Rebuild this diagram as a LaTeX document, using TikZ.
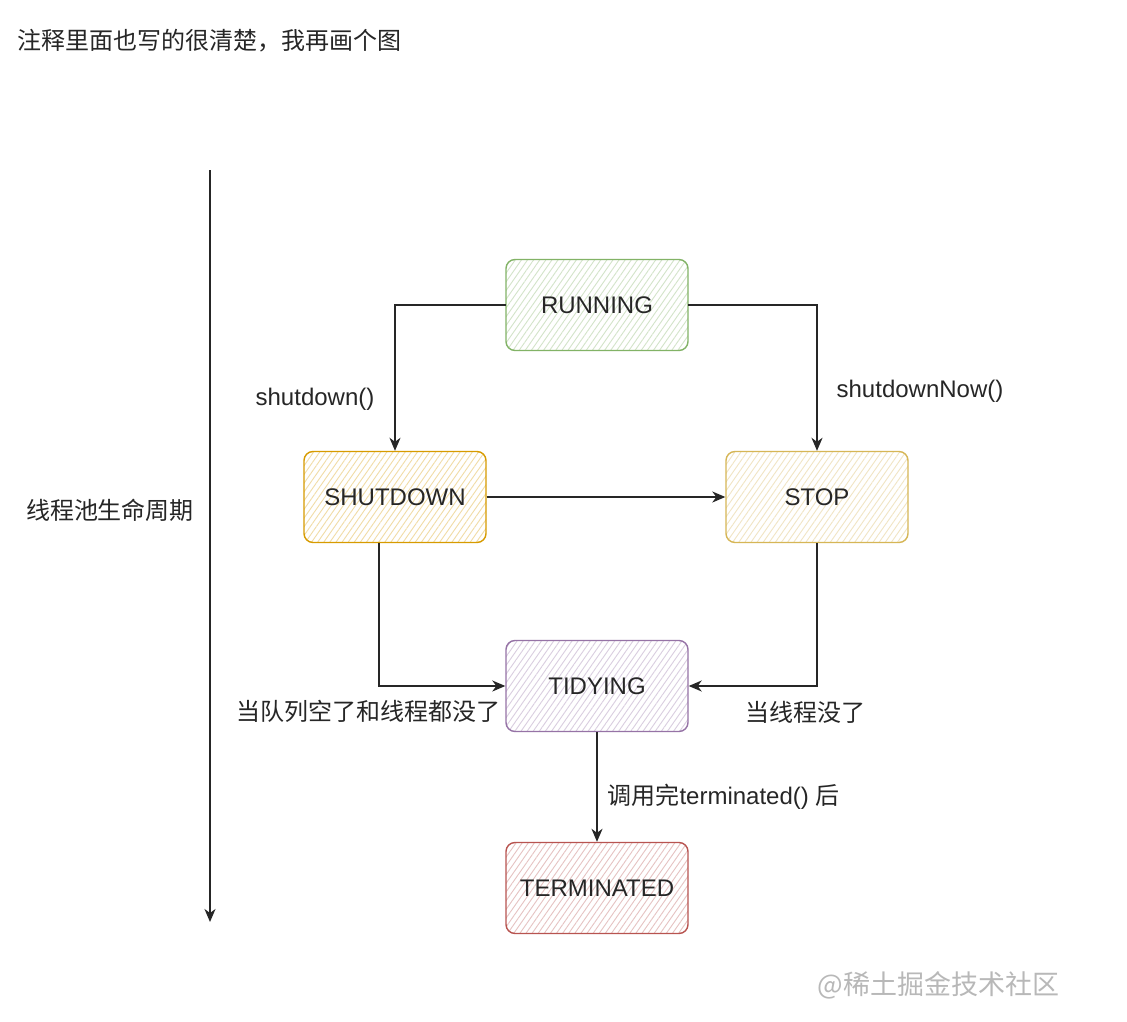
\documentclass[tikz,border=0pt]{standalone}
\usepackage{fontspec}
\setmainfont{Liberation Sans}
\newfontfamily\cjk{Noto Sans CJK SC}
\usetikzlibrary{arrows.meta,patterns.meta}

\definecolor{runline}{HTML}{82B366}
\definecolor{shutline}{HTML}{D79B00}
\definecolor{stopline}{HTML}{D6B656}
\definecolor{tidyline}{HTML}{9673A6}
\definecolor{termline}{HTML}{B85450}

\begin{document}
\begin{tikzpicture}[x=1pt,y=-1pt,
  state/.style={draw=#1, rounded corners=9pt, minimum width=182pt, minimum height=91pt,
    line width=1.4pt, text=black!85, font=\fontsize{24}{28}\selectfont,
    pattern={Lines[angle=55,distance=5pt,line width=0.9pt]}, pattern color=#1!35},
  lbl/.style={text=black!85, font=\fontsize{24}{28}\selectfont},
  cjklbl/.style={text=black!85, font={\cjk\fontsize{24}{28}\selectfont}},
  arr/.style={draw=black!85, line width=1.5pt, -{Stealth[length=13pt,width=11pt,inset=4pt]}}]
  \useasboundingbox[fill=white] (0,0) rectangle (1127,1022);
  % heading and time axis
  \node[cjklbl, anchor=west] (title) at (14,41) {注释里面也写的很清楚，我再画个图};
  \coordinate (axisTop) at (210,170);
  \coordinate (axisEnd) at (210,922);
  \draw[arr] (axisTop) -- (axisEnd);
  \node[cjklbl] (axisLbl) at (110,510) {线程池生命周期};
  % states
  \node[state=runline] (run) at (597,305) {RUNNING};
  \node[state=shutline] (shut) at (395,497) {SHUTDOWN};
  \node[state=stopline] (stop) at (817,497) {STOP};
  \node[state=tidyline] (tidy) at (597,686) {TIDYING};
  \node[state=termline] (term) at (597,888) {TERMINATED};
  % transitions
  \draw[arr] (run.west) -| (shut.north);
  \draw[arr] (run.east) -| (stop.north);
  \draw[arr] (shut.east) -- (stop.west);
  \draw[arr] ([xshift=-16pt]shut.south) |- (tidy.west);
  \draw[arr] (stop.south) |- (tidy.east);
  \draw[arr] (tidy.south) -- (term.north);
  \node[lbl] (shutLbl) at (315,399) {shutdown()};
  \node[lbl] (stopLbl) at (920,391) {shutdownNow()};
  \node[cjklbl] (emptyLbl) at (368,711) {当队列空了和线程都没了};
  \node[cjklbl] (noThreadLbl) at (805,712) {当线程没了};
  \node[lbl, anchor=west] (callLbl) at (604,797) {{\cjk 调用完}terminated() {\cjk 后}};
  % watermark
  \node[anchor=west, text=black!28, font={\cjk\fontsize{27}{30}\selectfont}] (mark) at (814,985) {@稀土掘金技术社区};
\end{tikzpicture}
\end{document}
